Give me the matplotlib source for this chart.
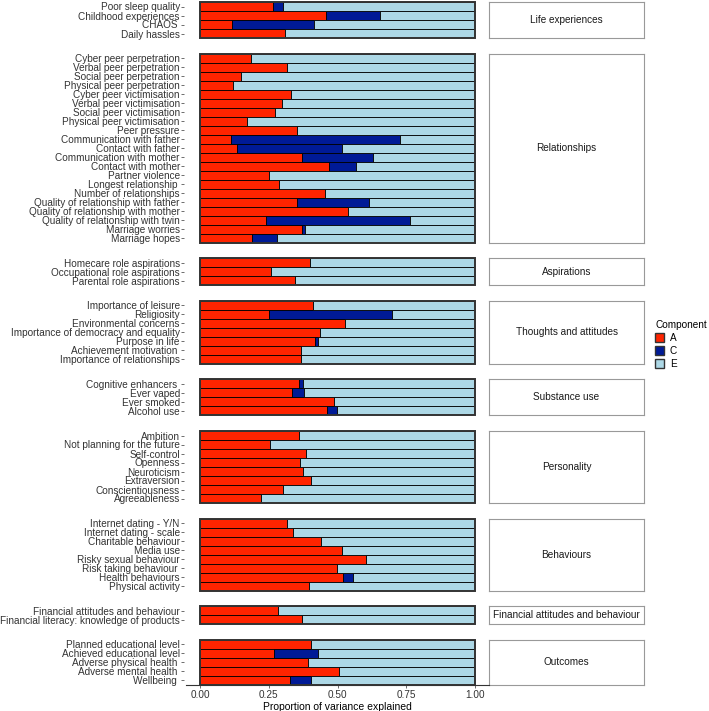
import matplotlib.pyplot as plt
from matplotlib.patches import Rectangle, Patch
from matplotlib.lines import Line2D

plt.rcParams['font.family'] = ['Liberation Sans', 'DejaVu Sans']

# ---- data: one set of lists per facet (top row first) ----
groups = ["Life experiences", "Relationships", "Aspirations", "Thoughts and attitudes",
          "Substance use", "Personality", "Behaviours",
          "Financial attitudes and behaviour", "Outcomes"]

life_labels = ["Poor sleep quality", "Childhood experiences", "CHAOS ", "Daily hassles"]
life_A = [0.267, 0.458, 0.115, 0.309]
life_C = [0.036, 0.197, 0.300, 0.0]
life_E = [0.697, 0.345, 0.585, 0.691]

rel_labels = ["Cyber peer perpetration", "Verbal peer perpetration", "Social peer perpetration",
              "Physical peer perpetration", "Cyber peer victimisation", "Verbal peer victimisation",
              "Social peer victimisation", "Physical peer victimisation", "Peer pressure",
              "Communication with father", "Contact with father", "Communication with mother",
              "Contact with mother", "Partner violence", "Longest relationship ",
              "Number of relationships", "Quality of relationship with father",
              "Quality of relationship with mother", "Quality of relationship with twin",
              "Marriage worries", "Marriage hopes"]
rel_A = [0.187, 0.315, 0.148, 0.119, 0.331, 0.298, 0.273, 0.171, 0.352, 0.114, 0.133,
         0.370, 0.468, 0.250, 0.286, 0.455, 0.353, 0.537, 0.240, 0.370, 0.189]
rel_C = [0.0, 0.0, 0.0, 0.0, 0.0, 0.0, 0.0, 0.0, 0.0, 0.613, 0.382,
         0.258, 0.099, 0.0, 0.0, 0.0, 0.262, 0.0, 0.524, 0.013, 0.090]
rel_E = [0.813, 0.685, 0.852, 0.881, 0.669, 0.702, 0.727, 0.829, 0.648, 0.273, 0.485,
         0.372, 0.433, 0.750, 0.714, 0.545, 0.385, 0.463, 0.236, 0.617, 0.721]

asp_labels = ["Homecare role aspirations", "Occupational role aspirations", "Parental role aspirations"]
asp_A = [0.400, 0.258, 0.347]
asp_C = [0.0, 0.0, 0.0]
asp_E = [0.600, 0.742, 0.653]

tho_labels = ["Importance of leisure", "Religiosity", "Environmental concerns",
              "Importance of democracy and equality", "Purpose in life",
              "Achievement motivation ", "Importance of relationships"]
tho_A = [0.412, 0.252, 0.528, 0.436, 0.419, 0.367, 0.367]
tho_C = [0.0, 0.446, 0.0, 0.0, 0.010, 0.0, 0.0]
tho_E = [0.588, 0.302, 0.472, 0.564, 0.571, 0.633, 0.633]

sub_labels = ["Cognitive enhancers ", "Ever vaped", "Ever smoked", "Alcohol use"]
sub_A = [0.361, 0.333, 0.486, 0.462]
sub_C = [0.012, 0.045, 0.0, 0.035]
sub_E = [0.627, 0.622, 0.514, 0.503]

per_labels = ["Ambition", "Not planning for the future", "Self-control", "Openness",
              "Neuroticism", "Extraversion", "Conscientiousness", "Agreeableness"]
per_A = [0.360, 0.256, 0.384, 0.365, 0.373, 0.402, 0.303, 0.223]
per_C = [0.0, 0.0, 0.0, 0.0, 0.0, 0.0, 0.0, 0.0]
per_E = [0.640, 0.744, 0.616, 0.635, 0.627, 0.598, 0.697, 0.777]

beh_labels = ["Internet dating - Y/N", "Internet dating - scale", "Charitable behaviour",
              "Media use", "Risky sexual behaviour", "Risk taking behaviour ",
              "Health behaviours", "Physical activity"]
beh_A = [0.315, 0.337, 0.441, 0.516, 0.605, 0.499, 0.520, 0.395]
beh_C = [0.0, 0.0, 0.0, 0.0, 0.0, 0.0, 0.035, 0.0]
beh_E = [0.685, 0.663, 0.559, 0.484, 0.395, 0.501, 0.445, 0.605]

fin_labels = ["Financial attitudes and behaviour", "Financial literacy: knowledge of products"]
fin_A = [0.282, 0.370]
fin_C = [0.0, 0.0]
fin_E = [0.718, 0.630]

out_labels = ["Planned educational level", "Achieved educational level",
              "Adverse physical health ", "Adverse mental health ", "Wellbeing "]
out_A = [0.402, 0.269, 0.394, 0.504, 0.327]
out_C = [0.0, 0.161, 0.0, 0.0, 0.077]
out_E = [0.598, 0.570, 0.606, 0.496, 0.596]

facets = [
    (life_labels, life_A, life_C, life_E),
    (rel_labels, rel_A, rel_C, rel_E),
    (asp_labels, asp_A, asp_C, asp_E),
    (tho_labels, tho_A, tho_C, tho_E),
    (sub_labels, sub_A, sub_C, sub_E),
    (per_labels, per_A, per_C, per_E),
    (beh_labels, beh_A, beh_C, beh_E),
    (fin_labels, fin_A, fin_C, fin_E),
    (out_labels, out_A, out_C, out_E),
]

col_A = "#FF2400"
col_C = "#001A96"
col_E = "#ADD8E6"
text_col = "#333333"

W, H = 709, 711
fig = plt.figure(figsize=(W / 100, H / 100), dpi=100)

# layout in pixels
panel_x0, panel_x1 = 200, 475
strip_x0, strip_x1 = 489, 644
top = 2.0
row_h = 9.0
gap = 15.6

y = top
for gi, (labels, a, c, e) in enumerate(facets):
    n = len(labels)
    ph = n * row_h
    ax = fig.add_axes([panel_x0 / W, 1 - (y + ph) / H, (panel_x1 - panel_x0) / W, ph / H])

    # spine setup first: set_position resets the ticks
    for s in ["top", "right", "bottom"]:
        ax.spines[s].set_visible(False)
    ax.spines["left"].set_position(("outward", 11.5))
    ax.spines["left"].set_visible(False)

    ypos = list(range(n))
    left_e = [ai + ci for ai, ci in zip(a, c)]
    ax.barh(ypos, a, height=1.0, color=col_A, edgecolor="black", linewidth=0.6)
    ax.barh(ypos, c, left=a, height=1.0, color=col_C, edgecolor="black", linewidth=0.6)
    ax.barh(ypos, e, left=left_e, height=1.0, color=col_E, edgecolor="black", linewidth=0.6)
    ax.set_ylim(n - 0.5, -0.5)
    ax.set_xlim(0, 1)
    ax.set_yticks(ypos)
    ax.set_yticklabels(labels, fontsize=7.2, color=text_col)
    ax.tick_params(axis="y", length=2.2, width=0.6, color="#555555", pad=0.8)

    ax.add_patch(Rectangle((0, 0), 1, 1, transform=ax.transAxes, fill=False,
                           edgecolor="#333333", linewidth=1.4, clip_on=False, zorder=5))

    if gi == len(facets) - 1:
        ax.set_xticks([0, 0.25, 0.5, 0.75, 1.0])
        ax.set_xticklabels(["0.00", "0.25", "0.50", "0.75", "1.00"], fontsize=7.2, color=text_col)
        ax.tick_params(axis="x", length=2.5, width=0.6, color="#555555", pad=1.5)
        ax.set_xlabel("Proportion of variance explained", fontsize=7.5, color="black", labelpad=1)
    else:
        ax.set_xticks([])

    # strip on the right
    sax = fig.add_axes([strip_x0 / W, 1 - (y + ph) / H, (strip_x1 - strip_x0) / W, ph / H])
    sax.set_xticks([])
    sax.set_yticks([])
    for s in sax.spines.values():
        s.set_edgecolor("#999999")
        s.set_linewidth(0.8)
    sax.text(0.5, 0.5, groups[gi], ha="center", va="center", fontsize=7.2,
             color="#1a1a1a", transform=sax.transAxes)

    y += ph + gap

# bottom axis line
yb = 1 - (y - gap) / H
fig.add_artist(Line2D([186 / W, strip_x0 / W], [yb, yb], color="#333333", linewidth=0.8))

# legend
handles = [Patch(facecolor=col_A, edgecolor="#333333", linewidth=1.0, label="A"),
           Patch(facecolor=col_C, edgecolor="#333333", linewidth=1.0, label="C"),
           Patch(facecolor=col_E, edgecolor="#333333", linewidth=1.0, label="E")]
leg = fig.legend(handles=handles, title="Component", loc="upper left",
                 bbox_to_anchor=(655 / W, 1 - 320 / H), frameon=False, fontsize=7.2,
                 title_fontsize=7.2, handlelength=0.9, handleheight=0.9,
                 handletextpad=0.6, labelspacing=0.3, borderpad=0.0,
                 borderaxespad=0.0, alignment="left")

fig.savefig("out.png", dpi=100, facecolor="white")
